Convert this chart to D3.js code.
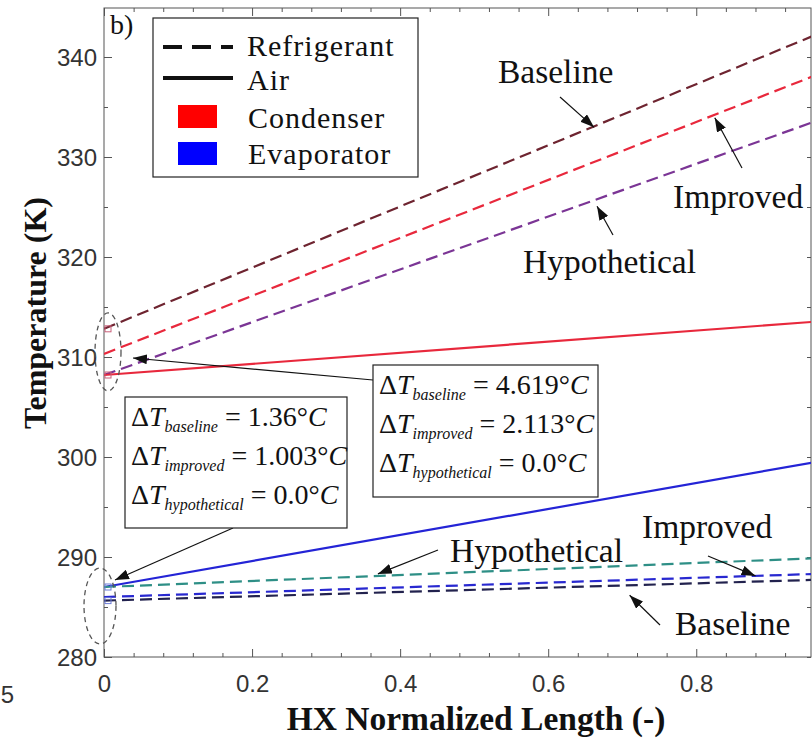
<!DOCTYPE html>
<html>
<head>
<meta charset="utf-8">
<script src="https://cdn.jsdelivr.net/npm/d3@7/dist/d3.min.js"></script>
<style>
  html, body { margin: 0; padding: 0; background: #fff; }
  svg { display: block; }
</style>
</head>
<body>
<svg id="chart" width="812" height="741"></svg>
<script>
// Temperature profiles along the normalized heat-exchanger length
const hxLength = [0, 1];                      // normalized position of the two profile ends
const condRefBaseline     = [312.82, 343.4];  // K
const condRefImproved     = [310.31, 339.3];
const condRefHypothetical = [308.2, 334.6];
const condAir             = [308.2, 313.75];
const evapAir             = [287.0, 300.0];
const evapRefHypothetical = [287.0, 290.0];
const evapRefImproved     = [286.0, 288.4];
const evapRefBaseline     = [285.64, 287.8];

const xTicks = [0, 0.2, 0.4, 0.6, 0.8];
const yTicks = [280, 290, 300, 310, 320, 330, 340];
const xTickLabels = ["0", "0.2", "0.4", "0.6", "0.8"];

const condDeltas = [["baseline", "4.619"], ["improved", "2.113"], ["hypothetical", "0.0"]];
const evapDeltas = [["baseline", "1.36"], ["improved", "1.003"], ["hypothetical", "0.0"]];

const series = [
  { v: condRefBaseline,     color: "#6e2430", dash: true },
  { v: condRefImproved,     color: "#e8283c", dash: true },
  { v: condRefHypothetical, color: "#7b3595", dash: true },
  { v: condAir,             color: "#e8283c", dash: false },
  { v: evapAir,             color: "#2424d6", dash: false },
  { v: evapRefHypothetical, color: "#2e8f86", dash: true },
  { v: evapRefImproved,     color: "#2828d0", dash: true },
  { v: evapRefBaseline,     color: "#22224e", dash: true }
];

const svg = d3.select("#chart");
const L = 104, R = 811, T = 8, B = 657;
const xMax = 0.955;
const x = d3.scaleLinear([0, xMax], [L, R]);
const y = d3.scaleLinear([280, 344.9], [B, T]);

const serif = "'Liberation Serif', 'Times New Roman', serif";
const sans = "'Liberation Sans', Arial, sans-serif";

svg.append("rect").attr("width", 812).attr("height", 741).attr("fill", "#fff");

const defs = svg.append("defs");
defs.append("clipPath").attr("id", "plotClip")
  .append("rect").attr("x", L).attr("y", T).attr("width", R - L).attr("height", B - T);
defs.append("marker").attr("id", "head")
  .attr("viewBox", "0 0 14 10").attr("refX", 14).attr("refY", 5)
  .attr("markerWidth", 14).attr("markerHeight", 10).attr("markerUnits", "userSpaceOnUse")
  .attr("orient", "auto")
  .append("path").attr("d", "M0,0 L14,5 L0,10 Z").attr("fill", "#111");

// ---- axes: ticks point inward on all four sides ----
const minorX = d3.range(0, 0.96, 0.04).filter(v => Math.abs(v / 0.2 - Math.round(v / 0.2)) > 1e-6);
const minorY = d3.range(285, 345, 10);
const axisColor = "#555";

function styleAxis(g) {
  g.select(".domain").remove();
  g.selectAll("line").attr("stroke", axisColor).attr("stroke-width", 1);
}

svg.append("g").attr("transform", `translate(0,${B})`)
  .call(d3.axisBottom(x).tickValues(xTicks).tickSize(-8).tickFormat((d, i) => xTickLabels[i]))
  .call(styleAxis)
  .call(g => g.selectAll("text").attr("y", 18).attr("dy", "0.71em")
    .attr("font-family", sans).attr("font-size", 24).attr("fill", "#333"));
svg.append("g").attr("transform", `translate(0,${B})`)
  .call(d3.axisBottom(x).tickValues(minorX).tickSize(-4).tickFormat(""))
  .call(styleAxis);
svg.append("g").attr("transform", `translate(0,${T})`)
  .call(d3.axisTop(x).tickValues(xTicks).tickSize(-8).tickFormat(""))
  .call(styleAxis);
svg.append("g").attr("transform", `translate(0,${T})`)
  .call(d3.axisTop(x).tickValues(minorX).tickSize(-4).tickFormat(""))
  .call(styleAxis);

svg.append("g").attr("transform", `translate(${L},0)`)
  .call(d3.axisLeft(y).tickValues(yTicks).tickSize(-8).tickFormat(d3.format("d")))
  .call(styleAxis)
  .call(g => g.selectAll("text").attr("x", -7).attr("dy", "0.35em")
    .attr("font-family", sans).attr("font-size", 24).attr("fill", "#333"));
svg.append("g").attr("transform", `translate(${L},0)`)
  .call(d3.axisLeft(y).tickValues(minorY).tickSize(-4).tickFormat(""))
  .call(styleAxis);
svg.append("g").attr("transform", `translate(${R},0)`)
  .call(d3.axisRight(y).tickValues(yTicks.concat(minorY)).tickSize(-4).tickFormat(""))
  .call(styleAxis);

// plot frame
svg.append("rect").attr("x", L).attr("y", T).attr("width", R - L).attr("height", B - T)
  .attr("fill", "none").attr("stroke", axisColor).attr("stroke-width", 1);

// ---- profiles ----
const line = d3.line().x((d, i) => x(hxLength[i])).y(d => y(d));
const plot = svg.append("g").attr("clip-path", "url(#plotClip)");
plot.selectAll("path.profile").data(series).join("path")
  .attr("class", "profile")
  .attr("d", s => line(s.v))
  .attr("fill", "none")
  .attr("stroke", s => s.color)
  .attr("stroke-width", 2.2)
  .attr("stroke-dasharray", s => s.dash ? "12,6" : null);

// small open markers at the inlet of selected profiles
const inletMarks = [condRefBaseline, condAir, evapAir, evapRefBaseline];
const inletColors = ["#c9607a", "#c9607a", "#6a7ad8", "#6a7ad8"];
plot.selectAll("rect.inlet").data(inletMarks).join("rect")
  .attr("class", "inlet")
  .attr("x", x(hxLength[0]) + 1).attr("y", d => y(d[0]) - 3)
  .attr("width", 6).attr("height", 6)
  .attr("fill", "none").attr("stroke", (d, i) => inletColors[i]).attr("stroke-width", 1);

// helper: point on a profile at a given normalized length
function at(v, t) { return [x(t), y(v[0] + (v[1] - v[0]) * t)]; }

// ---- inlet highlight ellipses ----
svg.append("ellipse").attr("cx", 108).attr("cy", y((condRefBaseline[0] + condAir[0]) / 2))
  .attr("rx", 13).attr("ry", 39)
  .attr("fill", "none").attr("stroke", "#555").attr("stroke-width", 1.3).attr("stroke-dasharray", "5,4");
svg.append("ellipse").attr("cx", 100).attr("cy", 606)
  .attr("rx", 16).attr("ry", 38)
  .attr("fill", "none").attr("stroke", "#555").attr("stroke-width", 1.3).attr("stroke-dasharray", "5,4");

// ---- annotation arrows ----
function arrow(x1, y1, tip) {
  svg.append("line").attr("x1", x1).attr("y1", y1).attr("x2", tip[0]).attr("y2", tip[1])
    .attr("stroke", "#111").attr("stroke-width", 1.2).attr("marker-end", "url(#head)");
}
function label(txt, tx, ty) {
  svg.append("text").attr("x", tx).attr("y", ty).text(txt)
    .attr("font-family", serif).attr("font-size", 33.5).attr("fill", "#111");
}
const off = (p, dx, dy) => [p[0] + dx, p[1] + dy];

label("Baseline", 498, 83);
arrow(560, 97, off(at(condRefBaseline, 0.662), 0, 1));
label("Improved", 673, 208);
arrow(742, 168, off(at(condRefImproved, 0.825), 0, 3));
label("Hypothetical", 523, 273);
arrow(613, 235, off(at(condRefHypothetical, 0.666), 0, 7));

label("Improved", 642, 538);
arrow(708, 556, off(at(evapRefImproved, 0.88), 0, 0));
label("Hypothetical", 450, 562);
arrow(438, 550, off(at(evapRefHypothetical, 0.37), 0, -2));
label("Baseline", 675, 635);
arrow(660, 625, off(at(evapRefBaseline, 0.71), 0, 10));

// ---- ΔT boxes ----
function deltaBox(bx, by, bw, bh, rows) {
  svg.append("rect").attr("x", bx).attr("y", by).attr("width", bw).attr("height", bh)
    .attr("fill", "#fff").attr("stroke", "#222").attr("stroke-width", 1.2);
  rows.forEach((r, i) => {
    const t = svg.append("text").attr("x", bx + 6).attr("y", by + 29 + i * 39)
      .attr("font-family", serif).attr("font-size", 28).attr("fill", "#111");
    t.append("tspan").text("Δ");
    t.append("tspan").attr("font-style", "italic").text("T");
    t.append("tspan").attr("font-style", "italic").attr("font-size", 16).attr("dy", 6).text(r[0]);
    t.append("tspan").attr("dy", -6).text(" = " + r[1] + "°");
    t.append("tspan").attr("font-style", "italic").text("C");
  });
}
arrow(373, 380, [133, 358]);
deltaBox(373, 365, 225, 132, condDeltas);
arrow(233, 528, [115, 580]);
deltaBox(125, 397, 222, 131, evapDeltas);

// ---- legend ----
const lg = svg.append("g");
lg.append("rect").attr("x", 153).attr("y", 18).attr("width", 265).attr("height", 159)
  .attr("fill", "#fff").attr("stroke", "#222").attr("stroke-width", 1.2);
lg.append("line").attr("x1", 163).attr("x2", 233).attr("y1", 47).attr("y2", 47)
  .attr("stroke", "#111").attr("stroke-width", 4).attr("stroke-dasharray", "19,10");
lg.append("line").attr("x1", 163).attr("x2", 233).attr("y1", 78).attr("y2", 78)
  .attr("stroke", "#111").attr("stroke-width", 4);
lg.append("rect").attr("x", 178).attr("y", 105).attr("width", 39).attr("height", 23).attr("fill", "#f00");
lg.append("rect").attr("x", 178).attr("y", 142).attr("width", 39).attr("height", 23).attr("fill", "#00f");
const legendText = ["Refrigerant", "Air", "Condenser", "Evaporator"];
const legendY = [56, 90, 128, 164];
lg.selectAll("text").data(legendText).join("text")
  .attr("x", (d, i) => i < 2 ? 247 : 248).attr("y", (d, i) => legendY[i]).text(d => d)
  .attr("font-family", serif).attr("font-size", 30).attr("letter-spacing", 1)
  .attr("fill", "#111");

// panel letter
svg.append("text").attr("x", 110).attr("y", 34).text("b)")
  .attr("font-family", serif).attr("font-size", 28).attr("fill", "#111");

// axis titles
svg.append("text").attr("x", 476).attr("y", 730).attr("text-anchor", "middle")
  .text("HX Normalized Length (-)")
  .attr("font-family", serif).attr("font-weight", "bold").attr("font-size", 33.5).attr("fill", "#111");
svg.append("text").attr("transform", "translate(46,313) rotate(-90)").attr("text-anchor", "middle")
  .text("Temperature (K)")
  .attr("font-family", serif).attr("font-weight", "bold").attr("font-size", 32).attr("fill", "#111");

// neighbouring panel tick label at the left margin
svg.append("text").attr("x", 14).attr("y", 703).attr("text-anchor", "end").text("5")
  .attr("font-family", sans).attr("font-size", 24).attr("fill", "#333");
</script>
</body>
</html>
